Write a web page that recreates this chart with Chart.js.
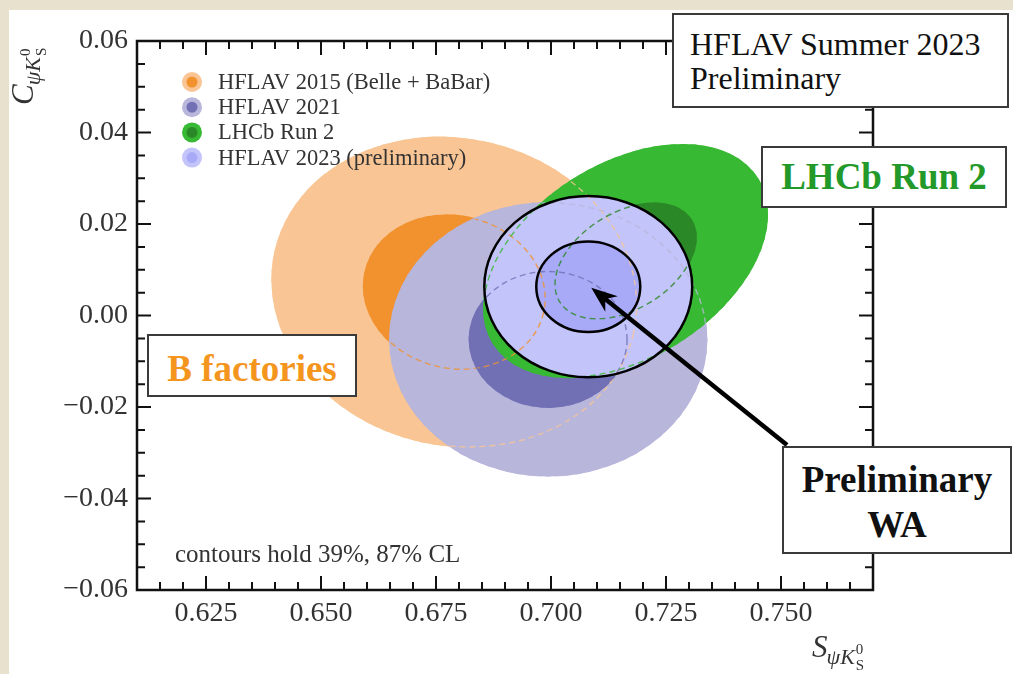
<!DOCTYPE html>
<html>
<head>
<meta charset="utf-8">
<script src="https://cdn.jsdelivr.net/npm/chart.js@4.4.0/dist/chart.umd.min.js"></script>
<style>
  html, body { margin: 0; padding: 0; }
  body {
    width: 1013px; height: 674px; position: relative; overflow: hidden;
    background: #e8e1cd; font-family: 'Liberation Serif', serif;
  }
  #panel { position: absolute; left: 9px; top: 10px; width: 1004px; height: 664px; background: #fff; }
  #chart { display: block; }
  .note {
    position: absolute; box-sizing: border-box; background: #fff;
    border: 2px solid #3a3a3a; white-space: nowrap;
  }
  #note-title { left: 672px; top: 13px; width: 337px; height: 95px; padding: 12px 0 0 16px; font-size: 32px; line-height: 34px; color: #111; }
  #note-lhcb { left: 761px; top: 146px; width: 246px; height: 62px; padding-top: 10px; text-align: center; font-size: 37px; line-height: 37px; font-weight: bold; color: #23992a; }
  #note-bfac { left: 147px; top: 334px; width: 210px; height: 63px; padding-top: 14px; text-align: center; font-size: 37px; line-height: 37px; font-weight: bold; color: #f4961e; }
  #note-wa { left: 782px; top: 446px; width: 230px; height: 108px; padding-top: 9px; text-align: center; font-size: 37px; line-height: 45px; font-weight: bold; color: #111; }
</style>
</head>
<body>
<div id="panel"><canvas id="chart" width="1004" height="664"></canvas></div>
<div class="note" id="note-title">HFLAV Summer 2023<br>Preliminary</div>
<div class="note" id="note-lhcb">LHCb Run 2</div>
<div class="note" id="note-bfac">B factories</div>
<div class="note" id="note-wa">Preliminary<br>WA</div>
<script>
// measurements of S and C in B0 -> psi K0S
const measurements = ['HFLAV 2015 (Belle + BaBar)', 'HFLAV 2021', 'LHCb Run 2', 'HFLAV 2023 (preliminary)'];
const centerS = [0.6790, 0.6994, 0.7162, 0.7081];
const centerC = [0.0051, -0.0052, 0.0119, 0.0063];
const sigmaS = [0.0199, 0.0173, 0.0155, 0.0113];
const sigmaC = [0.0170, 0.0150, 0.0128, 0.0099];
const corr = [-0.08, 0.0, 0.40, 0.0];
const contourLevels = [2, 1]; // 87% and 39% CL in 2D (2 and 1 sigma)
const sTicks = [0.625, 0.650, 0.675, 0.700, 0.725, 0.750];
const cTicks = [-0.06, -0.04, -0.02, 0.00, 0.02, 0.04, 0.06];

const outerColors = ['#f9c594', '#b8b6db', '#38b934', '#c3c4fa'];
const innerColors = ['#f1922f', '#7270b5', '#2a8826', '#a8aaf8'];
const serif = "'Liberation Serif', serif";

function ellipsePath(ctx, xs, ys, i, k) {
    const cx = xs.getPixelForValue(centerS[i]);
    const cy = ys.getPixelForValue(centerC[i]);
    const ax = xs.getPixelForValue(centerS[i] + sigmaS[i]) - cx;
    const ay = ys.getPixelForValue(centerC[i] + sigmaC[i]) - cy;
    // covariance in pixel space -> principal axes
    const a = ax * ax, d = ay * ay, b = corr[i] * ax * ay;
    const mid = (a + d) / 2;
    const diff = Math.sqrt(((a - d) / 2) ** 2 + b * b);
    const theta = 0.5 * Math.atan2(2 * b, a - d);
    ctx.beginPath();
    ctx.ellipse(cx, cy, k * Math.sqrt(mid + diff), k * Math.sqrt(Math.max(mid - diff, 0)), theta, 0, Math.PI * 2);
}

// letter with subscript psi K^0_S, baseline at (x, y)
function drawSymbol(ctx, letter, x, y) {
    ctx.fillStyle = '#333';
    ctx.textAlign = 'left';
    ctx.textBaseline = 'alphabetic';
    ctx.font = 'italic 31px ' + serif;
    ctx.fillText(letter, x, y);
    let px = x + ctx.measureText(letter).width - 1;
    ctx.font = 'italic 22px ' + serif;
    ctx.fillText('\u03C8K', px, y + 7);
    px += ctx.measureText('\u03C8K').width + 1;
    ctx.font = '15px ' + serif;
    ctx.fillText('0', px, y - 3);
    ctx.fillText('S', px, y + 13);
}

const contourPlugin = {
    id: 'contours',
    beforeDatasetsDraw(chart) {
        const { ctx, chartArea: area, scales: { x, y } } = chart;
        ctx.save();
        ctx.beginPath();
        ctx.rect(area.left, area.top, area.width, area.height);
        ctx.clip();

        // filled regions, oldest first
        chart.data.datasets.forEach((ds, i) => {
            contourLevels.forEach((k, j) => {
                ellipsePath(ctx, x, y, i, k);
                ctx.fillStyle = j === 0 ? outerColors[i] : innerColors[i];
                ctx.fill();
            });
        });

        // dashed outlines of the inputs, kept inside their own contour
        for (let i = 0; i < 3; i++) {
            contourLevels.forEach((k, j) => {
                ctx.save();
                ellipsePath(ctx, x, y, i, k);
                ctx.clip();
                ellipsePath(ctx, x, y, i, k);
                ctx.setLineDash([6, 4]);
                ctx.lineWidth = 3;
                ctx.globalAlpha = 0.8;
                ctx.strokeStyle = j === 0 ? outerColors[i] : innerColors[i];
                ctx.stroke();
                ctx.restore();
            });
        }

        // world average in solid black
        ctx.lineWidth = 2.5;
        ctx.strokeStyle = '#000';
        contourLevels.forEach(k => {
            ellipsePath(ctx, x, y, 3, k);
            ctx.stroke();
        });
        ctx.restore();
    },
    afterDraw(chart) {
        const { ctx, chartArea: area, scales: { x, y } } = chart;
        ctx.save();

        // frame + inward ticks on all four sides
        ctx.strokeStyle = '#111';
        ctx.lineWidth = 2.5;
        ctx.strokeRect(area.left, area.top, area.width, area.height);
        ctx.lineWidth = 2;
        ctx.beginPath();
        for (let n = 123; n <= 153; n++) {
            const v = n * 0.005;
            const len = sTicks.some(t => Math.abs(t - v) < 1e-6) ? 14 : 8;
            const px = x.getPixelForValue(v);
            ctx.moveTo(px, area.bottom); ctx.lineTo(px, area.bottom - len);
            ctx.moveTo(px, area.top); ctx.lineTo(px, area.top + len);
        }
        for (let n = -11; n <= 11; n++) {
            const v = n * 0.005;
            const len = cTicks.some(t => Math.abs(t - v) < 1e-6) ? 14 : 8;
            const py = y.getPixelForValue(v);
            ctx.moveTo(area.left, py); ctx.lineTo(area.left + len, py);
            ctx.moveTo(area.right, py); ctx.lineTo(area.right - len, py);
        }
        ctx.stroke();

        // legend
        ctx.textAlign = 'left';
        ctx.textBaseline = 'middle';
        ctx.font = '22.5px ' + serif;
        measurements.forEach((label, i) => {
            const cy = area.top + 41 + i * 25.2;
            const cx = area.left + 55;
            ctx.fillStyle = outerColors[i];
            ctx.beginPath(); ctx.arc(cx, cy, 10, 0, Math.PI * 2); ctx.fill();
            ctx.fillStyle = innerColors[i];
            ctx.beginPath(); ctx.arc(cx, cy, 5.5, 0, Math.PI * 2); ctx.fill();
            ctx.fillStyle = '#333';
            ctx.fillText(label, area.left + 81, cy + 1);
        });

        ctx.textBaseline = 'alphabetic';
        ctx.font = '25px ' + serif;
        ctx.fillStyle = '#333';
        ctx.fillText('contours hold 39%, 87% CL', area.left + 38, area.bottom - 28);

        // axis titles
        drawSymbol(ctx, 'S', 803, 647);
        ctx.save();
        ctx.translate(24, 95);
        ctx.rotate(-Math.PI / 2);
        drawSymbol(ctx, 'C', 0, 0);
        ctx.restore();

        // arrow from the WA box to the average
        const tipX = x.getPixelForValue(centerS[3]) + 3;
        const tipY = y.getPixelForValue(centerC[3]) + 1;
        const tailX = 778, tailY = 435;
        const len = Math.hypot(tailX - tipX, tailY - tipY);
        const ux = (tailX - tipX) / len, uy = (tailY - tipY) / len;
        const nx = -uy, ny = ux;
        ctx.strokeStyle = '#000';
        ctx.lineWidth = 4.5;
        ctx.beginPath();
        ctx.moveTo(tailX, tailY);
        ctx.lineTo(tipX + ux * 16, tipY + uy * 16);
        ctx.stroke();
        ctx.fillStyle = '#000';
        ctx.beginPath();
        ctx.moveTo(tipX, tipY);
        ctx.lineTo(tipX + ux * 26 + nx * 10, tipY + uy * 26 + ny * 10);
        ctx.lineTo(tipX + ux * 18, tipY + uy * 18);
        ctx.lineTo(tipX + ux * 26 - nx * 10, tipY + uy * 26 - ny * 10);
        ctx.closePath();
        ctx.fill();

        ctx.restore();
    }
};

new Chart(document.getElementById('chart'), {
    type: 'scatter',
    data: {
        datasets: measurements.map((label, i) => ({
            label: label,
            data: [{ x: centerS[i], y: centerC[i] }],
            pointRadius: 0,
            backgroundColor: innerColors[i],
            borderColor: outerColors[i]
        }))
    },
    options: {
        responsive: false,
        animation: false,
        events: [],
        layout: { padding: { top: 31, right: 140, left: 0, bottom: 0 } },
        plugins: {
            legend: { display: false },
            tooltip: { enabled: false }
        },
        scales: {
            x: {
                type: 'linear',
                min: 0.61,
                max: 0.77,
                afterBuildTicks: scale => { scale.ticks = sTicks.map(v => ({ value: v })); },
                afterFit: scale => { scale.height = 84; },
                grid: { display: false, drawTicks: false },
                border: { display: false },
                ticks: {
                    autoSkip: false,
                    maxRotation: 0,
                    padding: 7,
                    color: '#333',
                    font: { family: serif, size: 28 },
                    callback: v => v.toFixed(3)
                }
            },
            y: {
                type: 'linear',
                min: -0.06,
                max: 0.06,
                afterBuildTicks: scale => { scale.ticks = cTicks.map(v => ({ value: v })); },
                afterFit: scale => { scale.width = 128; },
                grid: { display: false, drawTicks: false },
                border: { display: false },
                ticks: {
                    autoSkip: false,
                    padding: 9,
                    color: '#333',
                    font: { family: serif, size: 28 },
                    callback: v => v.toFixed(2).replace('-', '\u2212')
                }
            }
        }
    },
    plugins: [contourPlugin]
});
</script>
</body>
</html>
